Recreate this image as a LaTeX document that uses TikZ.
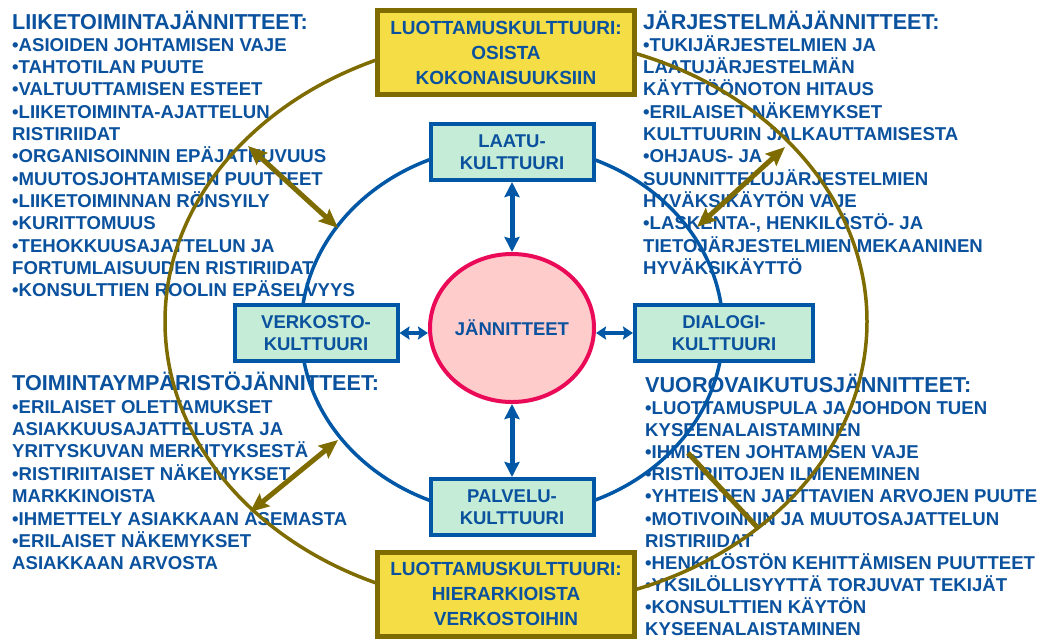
\documentclass[tikz,border=0pt]{standalone}
\usepackage{fontspec}
\setmainfont{Liberation Sans}
\usetikzlibrary{arrows.meta,shapes.geometric}

\definecolor{txtblue}{HTML}{0A519E}
\definecolor{ringblue}{HTML}{0057A6}
\definecolor{boxgreen}{HTML}{C4ECD6}
\definecolor{ringolive}{HTML}{7F6C00}
\definecolor{trustyellow}{HTML}{F5DE45}
\definecolor{corepink}{HTML}{FFCCCC}
\definecolor{corerim}{HTML}{EA0A57}

\tikzset{
  listhead/.style={font=\fontsize{21.6}{22}\selectfont\bfseries, text=txtblue, inner sep=0pt, anchor=base west},
  listitem/.style={font=\fontsize{18.6}{22}\selectfont\bfseries, text=txtblue, inner sep=0pt, anchor=base west},
  culture/.style={draw=ringblue, line width=4pt, fill=boxgreen, minimum width=163pt, minimum height=56pt,
    align=center, text=txtblue, font=\fontsize{18.5}{22}\selectfont\bfseries, inner sep=0pt},
  trustbox/.style={draw=ringolive, line width=5pt, fill=trustyellow, minimum width=257pt, minimum height=84pt,
    align=center, text=txtblue, font=\fontsize{19}{25}\selectfont\bfseries, inner sep=0pt},
  corebox/.style={ellipse, draw=corerim, line width=4pt, fill=corepink, minimum width=164pt, minimum height=148pt,
    text=txtblue, font=\fontsize{18.5}{22}\selectfont\bfseries, inner sep=0pt},
  ringline/.style={line width=3.5pt},
  duallink/.style={draw=ringblue, line width=5pt, {Stealth[length=15pt,width=15pt,inset=2pt]}-{Stealth[length=15pt,width=15pt,inset=2pt]}},
  shortlink/.style={draw=ringblue, line width=4pt, {Stealth[length=10pt,width=13pt,inset=1.5pt]}-{Stealth[length=10pt,width=13pt,inset=1.5pt]}},
  strainarrow/.style={draw=ringolive, line width=5pt, {Stealth[length=19pt,width=16pt,inset=3pt]}-{Stealth[length=19pt,width=16pt,inset=3pt]}},
  strainline/.style={draw=ringolive, line width=5pt}
}

\begin{document}
\begin{tikzpicture}[x=1pt,y=-1pt]
\useasboundingbox (0,0) rectangle (1042,638);
\fill[white] (0,0) rectangle (1042,638);

% ---- tension lists ----
\node[listhead] (bizhead) at (12,29) {LIIKETOIMINTAJÄNNITTEET:};
\foreach \t [count=\i] in {•ASIOIDEN JOHTAMISEN VAJE, •TAHTOTILAN PUUTE, •VALTUUTTAMISEN ESTEET,
  •LIIKETOIMINTA-AJATTELUN, RISTIRIIDAT, •ORGANISOINNIN EPÄJATKUVUUS, •MUUTOSJOHTAMISEN PUUTTEET,
  •LIIKETOIMINNAN RÖNSYILY, •KURITTOMUUS, •TEHOKKUUSAJATTELUN JA, FORTUMLAISUUDEN RISTIRIIDAT,
  •KONSULTTIEN ROOLIN EPÄSELVYYS}
  \node[listitem] (biz\i) at (12,{51.3+22.3*(\i-1)}) {\t};

\node[listhead] (syshead) at (643,29) {JÄRJESTELMÄJÄNNITTEET:};
\foreach \t [count=\i] in {•TUKIJÄRJESTELMIEN JA, LAATUJÄRJESTELMÄN, KÄYTTÖÖNOTON HITAUS,
  •ERILAISET NÄKEMYKSET, KULTTUURIN JALKAUTTAMISESTA, •OHJAUS- JA, SUUNNITTELUJÄRJESTELMIEN,
  HYVÄKSIKÄYTÖN VAJE, {•LASKENTA-, HENKILÖSTÖ- JA}, TIETOJÄRJESTELMIEN MEKAANINEN, HYVÄKSIKÄYTTÖ}
  \node[listitem] (sys\i) at (643,{51.3+22.3*(\i-1)}) {\t};

\node[listhead] (envhead) at (12,390) {TOIMINTAYMPÄRISTÖJÄNNITTEET:};
\foreach \t [count=\i] in {•ERILAISET OLETTAMUKSET, ASIAKKUUSAJATTELUSTA JA, YRITYSKUVAN MERKITYKSESTÄ,
  •RISTIRIITAISET NÄKEMYKSET, MARKKINOISTA, •IHMETTELY ASIAKKAAN ASEMASTA, •ERILAISET NÄKEMYKSET,
  ASIAKKAAN ARVOSTA}
  \node[listitem] (env\i) at (12,{413+22.4*(\i-1)}) {\t};

\node[listhead] (inthead) at (645,392) {VUOROVAIKUTUSJÄNNITTEET:};
\foreach \t [count=\i] in {•LUOTTAMUSPULA JA JOHDON TUEN, KYSEENALAISTAMINEN, •IHMISTEN JOHTAMISEN VAJE,
  •RISTIRIITOJEN ILMENEMINEN, •YHTEISTEN JAETTAVIEN ARVOJEN PUUTE, •MOTIVOINNIN JA MUUTOSAJATTELUN,
  RISTIRIIDAT, •HENKILÖSTÖN KEHITTÄMISEN PUUTTEET, •YKSILÖLLISYYTTÄ TORJUVAT TEKIJÄT,
  •KONSULTTIEN KÄYTÖN, KYSEENALAISTAMINEN}
  \node[listitem] (int\i) at (645,{414.5+22.1*(\i-1)}) {\t};

% ---- rings ----
\draw[ringline, ringolive] (516,321.5) ellipse [x radius=351pt, y radius=285pt];
\draw[ringline, ringblue] (512,330) ellipse [x radius=211pt, y radius=185pt];

% ---- olive arrows between the rings ----
\coordinate (nwout) at (248,146);
\coordinate (nwin) at (338,228);
\coordinate (neout) at (785,147);
\coordinate (nein) at (697,227);
\coordinate (swin) at (338,440);
\coordinate (swout) at (250,512);
\coordinate (sein) at (688,453);
\coordinate (seout) at (757,527);
\draw[strainarrow] (nwout) -- (nwin);
\draw[strainarrow] (neout) -- (nein);
\draw[strainarrow] (swin) -- (swout);
\draw[strainline] (sein) -- (seout);

% ---- trust culture boxes ----
\node[trustbox] (trusttop) at (506,52.5) {LUOTTAMUSKULTTUURI:\\OSISTA\\KOKONAISUUKSIIN};
\node[trustbox] (trustbot) at (506,594) {LUOTTAMUSKULTTUURI:\\HIERARKIOISTA\\VERKOSTOIHIN};

% ---- cultures around the core ----
\node[corebox] (core) at (512,328) {JÄNNITTEET};
\node[culture] (laatu) at (512,152) {LAATU-\\KULTTUURI};
\node[culture] (palvelu) at (512,507) {PALVELU-\\KULTTUURI};
\node[culture] (verkosto) at (316,333) {VERKOSTO-\\KULTTUURI};
\node[culture, minimum width=178pt] (dialogi) at (724,333) {DIALOGI-\\KULTTUURI};

\draw[duallink] (laatu.south) -- (core.north);
\draw[duallink] (core.south) -- (palvelu.north);
\draw[shortlink] (verkosto.east) -- (verkosto.east -| core.west);
\draw[shortlink] (dialogi.west -| core.east) -- (dialogi.west);
\end{tikzpicture}
\end{document}
